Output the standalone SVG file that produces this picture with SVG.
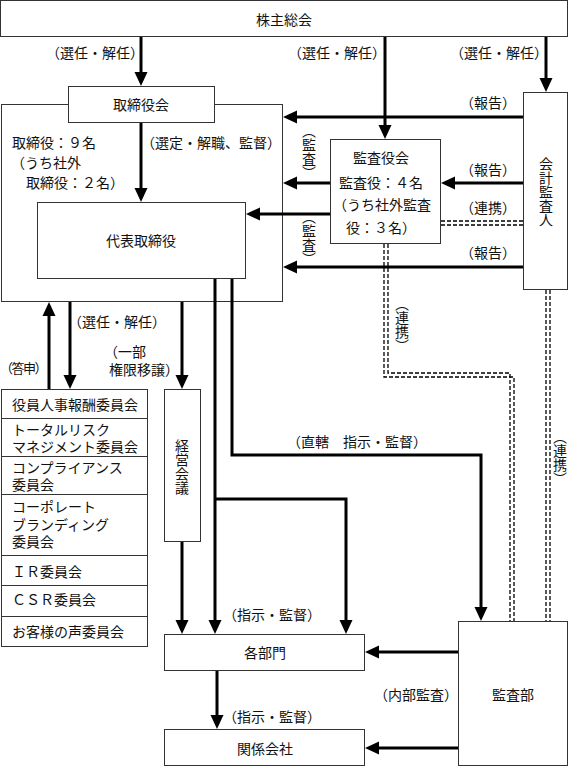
<svg xmlns="http://www.w3.org/2000/svg" width="569" height="767" viewBox="0 0 569 767">
<style>
text{font-family:"Noto Sans CJK JP","Noto Sans",sans-serif;font-size:14px;fill:#111}
.m{text-anchor:middle}
.v{writing-mode:vertical-rl;text-anchor:middle}
.box{fill:#fff;stroke:#333;stroke-width:1}
.c{fill:none;stroke:#000;stroke-width:3}
.a{marker-end:url(#ah)}
.d{fill:none;stroke:#000;stroke-width:1.3;stroke-dasharray:4 2}
</style>
<defs>
<marker id="ah" markerUnits="userSpaceOnUse" markerWidth="14" markerHeight="14" viewBox="0 0 14 14" refX="10" refY="7" orient="auto">
<path d="M0,0.5 L14,7 L0,13.5z" fill="#000"/>
</marker>
</defs>

<g id="shareholders">
<rect class="box" x="0.5" y="0.5" width="567" height="36"/>
<text class="m" x="284" y="25">株主総会</text>
</g>

<g id="board-outer">
<rect class="box" x="1.5" y="104.5" width="281" height="197"/>
<text x="12" y="148">取締役：９名<tspan x="11" y="168">（うち社外</tspan><tspan x="26" y="188">取締役：２名）</tspan></text>
</g>

<g id="board">
<rect class="box" x="68.5" y="86.5" width="146" height="36"/>
<text class="m" x="141" y="110">取締役会</text>
</g>

<g id="representative">
<rect class="box" x="37.5" y="202.5" width="208" height="76"/>
<text class="m" x="141" y="246">代表取締役</text>
</g>

<g id="audit-board">
<rect class="box" x="330.5" y="139.5" width="110" height="104"/>
<text class="m" x="381" y="163">監査役会</text>
<text x="339" y="188">監査役：４名<tspan x="333" y="210">（うち社外監査</tspan><tspan x="346" y="233">役：３名）</tspan></text>
</g>

<g id="accounting-auditor">
<rect class="box" x="523.5" y="92.5" width="44" height="197"/>
<text class="v" x="546" y="192">会計監査人</text>
</g>

<g id="committees">
<rect class="box" x="1.5" y="389.5" width="146" height="257"/>
<path d="M1.5,418.5H147.5M1.5,456.5H147.5M1.5,494.5H147.5M1.5,555.5H147.5M1.5,585.5H147.5M1.5,616.5H147.5" stroke="#333" stroke-width="1" fill="none"/>
<text x="12" y="410">役員人事報酬委員会</text>
<text x="12" y="435">トータルリスク<tspan x="12" y="452">マネジメント委員会</tspan></text>
<text x="12" y="473">コンプライアンス<tspan x="12" y="490">委員会</tspan></text>
<text x="12" y="512">コーポレート<tspan x="12" y="530">ブランディング</tspan><tspan x="12" y="547">委員会</tspan></text>
<text x="12" y="577">ＩＲ委員会</text>
<text x="12" y="605">ＣＳＲ委員会</text>
<text x="12" y="637">お客様の声委員会</text>
</g>

<g id="management-meeting">
<rect class="box" x="164.5" y="389.5" width="36" height="152"/>
<text class="v" x="182" y="467">経営会議</text>
</g>

<g id="departments">
<rect class="box" x="164.5" y="634.5" width="200" height="36"/>
<text class="m" x="265" y="658">各部門</text>
</g>

<g id="affiliates">
<rect class="box" x="164.5" y="729.5" width="200" height="36"/>
<text class="m" x="265" y="754">関係会社</text>
</g>

<g id="audit-dept">
<rect class="box" x="458.5" y="621.5" width="109" height="144"/>
<text class="m" x="513" y="700">監査部</text>
</g>

<g id="connectors">
<path class="c a" d="M141,37V82"/>
<path class="c a" d="M385,37V135"/>
<path class="c a" d="M546,37V88"/>
<path class="c a" d="M523,117H287"/>
<path class="c a" d="M141,123V198"/>
<path class="c a" d="M523,183H445"/>
<path class="c a" d="M330,183H287"/>
<path class="c a" d="M330,214H250"/>
<path class="c a" d="M523,267H287"/>
<path class="c a" d="M70,302V385"/>
<path class="c a" d="M49,389V306"/>
<path class="c a" d="M182,302V385"/>
<path class="c a" d="M215,279V630"/>
<path class="c a" d="M215,499H346V630"/>
<path class="c a" d="M232,279V455H481V617"/>
<path class="c a" d="M182,542V630"/>
<path class="c a" d="M217,671V725"/>
<path class="c a" d="M458,652H369"/>
<path class="c a" d="M458,748H369"/>
<path class="d" d="M441,221H523M441,225H523"/>
<path class="d" d="M384,244V377H514V621"/>
<path class="d" d="M388,244V373H510V621"/>
<path class="d" d="M546,290V621M550,290V621"/>

<text class="m" x="95" y="58">（選任・解任）</text>
<text class="m" x="337" y="58">（選任・解任）</text>
<text class="m" x="499" y="58">（選任・解任）</text>
<text class="m" x="488" y="108">（報告）</text>
<text class="m" x="211" y="148">（選定・解職、監督）</text>
<text class="v" x="309" y="152">（監査）</text>
<text class="m" x="488" y="175">（報告）</text>
<text class="m" x="488" y="213">（連携）</text>
<text class="v" x="309" y="238">（監査）</text>
<text class="m" x="488" y="258">（報告）</text>
<text class="v" x="402" y="325">（連携）</text>
<text class="v" x="560" y="458">（連携）</text>
<text class="m" x="117" y="327">（選任・解任）</text>
<text x="0" y="373" style="font-size:13px;letter-spacing:-1.5px">（答申）</text>
<text x="104" y="357">（一部<tspan x="109" y="375">権限移譲）</tspan></text>
<text class="m" x="357" y="447">（直轄　指示・監督）</text>
<text class="m" x="272" y="620">（指示・監督）</text>
<text class="m" x="272" y="722">（指示・監督）</text>
<text class="m" x="416" y="700">（内部監査）</text>
</g>
</svg>
